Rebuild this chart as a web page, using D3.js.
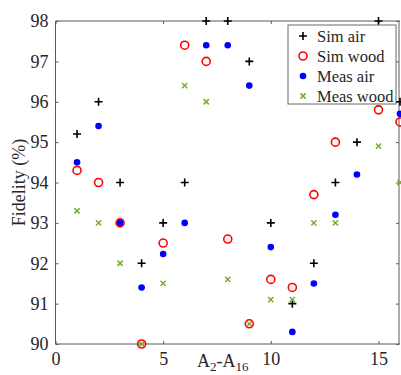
<!DOCTYPE html>
<html>
<head>
<meta charset="utf-8">
<script src="https://cdn.jsdelivr.net/npm/d3@7"></script>
<style>
  body { margin: 0; background: #fff; }
  svg text { font-family: "Liberation Serif", "Times New Roman", serif; fill: #262626; }
</style>
</head>
<body>
<div id="chart"></div>
<script>
// x positions (A2..A16 index)
const xs = [1, 2, 3, 4, 5, 6, 7, 8, 9, 10, 11, 12, 13, 14, 15, 16];

// fidelity values (%), null = not visible
const simAir   = [95.2, 96, 94, 92, 93, 94, 98, 98, 97, 93, 91, 92, 94, 95, 98, 96];
const simWood  = [94.3, 94, 93, 90, 92.5, 97.4, 97, 92.6, 90.5, 91.6, 91.4, 93.7, 95, null, 95.8, 95.5];
const measAir  = [94.5, 95.4, 93, 91.4, 92.23, 93, 97.4, 97.4, 96.4, 92.4, 90.3, 91.5, 93.2, 94.2, null, 95.7];
const measWood = [93.3, 93, 92, 90, 91.5, 96.4, 96, 91.6, 90.5, 91.1, 91.1, 93, 93, null, 94.9, 94];

const xTicks = [0, 5, 10, 15];
const yTicks = [90, 91, 92, 93, 94, 95, 96, 97, 98];

const series = [
    { name: "Sim air", values: simAir, type: "plus", color: "#000000" },
    { name: "Sim wood", values: simWood, type: "circle", color: "#ff0000" },
    { name: "Meas air", values: measAir, type: "dot", color: "#0000ff" },
    { name: "Meas wood", values: measWood, type: "cross", color: "#77ac30" }
];

const W = 401, H = 375;
const margin = { top: 21, right: 1, bottom: 31, left: 55.5 };

const svg = d3.select('#chart').append('svg')
    .attr('width', W)
    .attr('height', H);

const x = d3.scaleLinear().domain([0, 16]).range([margin.left, W - margin.right]);
const y = d3.scaleLinear().domain([90, 98]).range([H - margin.bottom, margin.top]);

// 画标记
function drawMarker(g, type, color) {
    if (type === "plus") {
        g.append('path').attr('d', 'M-4,0H4M0,-4V4')
            .attr('stroke', color).attr('stroke-width', 1.6).attr('fill', 'none');
    } else if (type === "circle") {
        g.append('circle').attr('r', 4)
            .attr('stroke', color).attr('stroke-width', 1.6).attr('fill', 'none');
    } else if (type === "dot") {
        g.append('circle').attr('r', 3.3).attr('fill', color);
    } else {
        g.append('path').attr('d', 'M-2.6,-2.6L2.6,2.6M-2.6,2.6L2.6,-2.6')
            .attr('stroke', color).attr('stroke-width', 1.5).attr('fill', 'none');
    }
}

// 坐标轴
const axisColor = '#5a5a5a';
const xBottom = svg.append('g')
    .attr('transform', `translate(0,${y(90)})`)
    .call(d3.axisBottom(x).tickValues(xTicks).tickSize(-3).tickPadding(8).tickFormat(d3.format('d')));
const xTop = svg.append('g')
    .attr('transform', `translate(0,${y(98)})`)
    .call(d3.axisTop(x).tickValues(xTicks).tickSize(-3).tickFormat(''));
const yLeft = svg.append('g')
    .attr('transform', `translate(${x(0)},0)`)
    .call(d3.axisLeft(y).tickValues(yTicks).tickSize(-3).tickPadding(7).tickFormat(d3.format('d')));
const yRight = svg.append('g')
    .attr('transform', `translate(${x(16) - 1},0)`)
    .call(d3.axisRight(y).tickValues(yTicks).tickSize(-3).tickFormat(''));

[xBottom, xTop, yLeft, yRight].forEach(a => {
    a.selectAll('path.domain').attr('stroke', axisColor).attr('stroke-width', 1);
    a.selectAll('line').attr('stroke', axisColor);
    a.selectAll('text').style('font-size', '18px').attr('fill', '#262626');
});
xBottom.selectAll('path.domain').attr('d', `M${x(0)},0H${x(16)}`);
xTop.selectAll('path.domain').attr('d', `M${x(0)},0H${x(16)}`);
yLeft.selectAll('path.domain').attr('d', `M0,${y(90)}V${y(98)}`);
yRight.selectAll('path.domain').attr('d', `M0,${y(90)}V${y(98)}`);

// 数据点
series.forEach(s => {
    const pts = xs.map((xv, i) => ({ x: xv, y: s.values[i] })).filter(d => d.y !== null);
    svg.append('g').selectAll('g')
        .data(pts)
        .enter()
        .append('g')
        .attr('transform', d => `translate(${x(d.x)},${y(d.y)})`)
        .each(function() { drawMarker(d3.select(this), s.type, s.color); });
});

// 轴标题
svg.append('text')
    .attr('transform', `translate(25,${(y(90) + y(98)) / 2}) rotate(-90)`)
    .attr('text-anchor', 'middle')
    .style('font-size', '18px')
    .text('Fidelity (%)');

const xl = svg.append('text')
    .attr('x', 197)
    .attr('y', 367)
    .style('font-size', '18px');
xl.append('tspan').text('A');
xl.append('tspan').attr('dy', 4).style('font-size', '13px').text('2');
xl.append('tspan').attr('dy', -4).text('-A');
xl.append('tspan').attr('dy', 4).style('font-size', '13px').text('16');

// 图例
const legend = svg.append('g').attr('transform', 'translate(288,25)');
legend.append('rect')
    .attr('width', 108).attr('height', 79)
    .attr('fill', '#fff').attr('stroke', '#6a6a6a').attr('stroke-width', 1);
series.forEach((s, i) => {
    const row = legend.append('g').attr('transform', `translate(15,${11 + i * 20})`);
    drawMarker(row, s.type, s.color);
    row.append('text')
        .attr('x', 14).attr('y', 5.5)
        .style('font-size', '16.5px')
        .text(s.name);
});
</script>
</body>
</html>
